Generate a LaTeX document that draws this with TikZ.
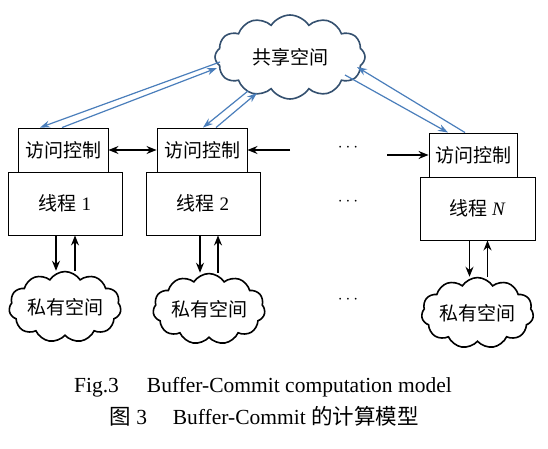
\documentclass[tikz,border=0pt]{standalone}
\usepackage{fontspec}
\setmainfont{Liberation Serif}
\newfontfamily\cjkf{Noto Sans CJK SC}
\usetikzlibrary{shapes.symbols,arrows.meta,calc}
\newcommand\zhs[1]{{\cjkf #1}}
\begin{document}
\begin{tikzpicture}[x=1pt,y=-1pt,
  txt/.style={font=\fontsize{19}{22}\selectfont},
  acbox/.style={draw,line width=0.9pt,minimum width=90pt,minimum height=44pt,inner sep=0pt,txt,fill=white},
  thbox/.style={draw,line width=0.9pt,minimum width=114pt,minimum height=63pt,inner sep=0pt,txt},
  shcloud/.style={cloud,cloud puffs=12,cloud puff arc=115,aspect=1.8,draw=cloudblue,line width=1.6pt,minimum width=150pt,minimum height=84pt,inner sep=0pt,txt},
  prcloud/.style={cloud,cloud puffs=11,cloud puff arc=115,aspect=1.9,draw,line width=1.6pt,minimum width=112pt,minimum height=60pt,inner sep=0pt,txt},
  barrow/.style={draw=arrowblue,line width=1.2pt,-{Stealth[length=10pt,width=7pt]}},
  karrow/.style={line width=1.3pt,-{Stealth[length=10pt,width=8pt]}},
  kdarrow/.style={line width=1.3pt,{Stealth[length=10pt,width=8pt]}-{Stealth[length=10pt,width=8pt]}},
  dotstyle/.style={font=\fontsize{16}{16}\selectfont},
  captext/.style={font=\fontsize{21.5}{24}\selectfont}
]
\definecolor{cloudblue}{HTML}{34506F}
\definecolor{arrowblue}{HTML}{4A7EBB}
\useasboundingbox (0,0) rectangle (548,449);
\fill[white] (0,0) rectangle (548,449);

% shared space
\node[shcloud] (sh) at (290,57) {\zhs{共享空间}};

% threads
\node[thbox] (t1) at (65,203.5) {\zhs{线程} 1};
\node[acbox] (a1) at (63,150) {\zhs{访问控制}};
\node[thbox] (t2) at (203,203.5) {\zhs{线程} 2};
\node[acbox] (a2) at (202,150) {\zhs{访问控制}};
\node[thbox,minimum width=115pt] (tN) at (477.5,208.5) {\zhs{线程} \textit{N}};
\node[acbox,minimum width=88pt] (aN) at (473,155) {\zhs{访问控制}};

% private spaces
\node[prcloud] (p1) at (65,307) {\zhs{私有空间}};
\node[prcloud] (p2) at (209,309) {\zhs{私有空间}};
\node[prcloud] (pN) at (477.5,313) {\zhs{私有空间}};

% dots
\node[dotstyle] (d1) at (348,148) {$\cdots$};
\node[dotstyle] (d2) at (348,202) {$\cdots$};
\node[dotstyle] (d3) at (348,300) {$\cdots$};

% blue arrows
\draw[barrow] ($(sh.center)+(-70,5)$) -- ($(a1.north)+(-23,0)$);
\draw[barrow] ($(a1.north)+(-1,0)$) -- ($(sh.center)+(-73,11)$);
\draw[barrow] ($(sh.center)+(-42,34)$) -- ($(a2.north)+(1,0)$);
\draw[barrow] ($(a2.north)+(14,0)$) -- ($(sh.center)+(-33,36)$);
\draw[barrow] ($(sh.center)+(55,18)$) -- ($(aN.north)+(-25,0)$);
\draw[barrow] ($(aN.north)+(-8,0)$) -- ($(sh.center)+(67,10)$);

% black arrows
\draw[kdarrow] (a1) -- (a2);
\coordinate (c1) at (290,150);
\coordinate (c2) at (387,155);
\draw[karrow] (c1) -- (a2.east);
\draw[karrow] (c2) -- (aN.west);

\draw[karrow] ([xshift=-9pt]t1.south) -- ([xshift=-9pt]p1.north);
\draw[karrow] ([xshift=10pt]p1.north) -- ([xshift=10pt]t1.south);
\draw[karrow] ([xshift=-3pt]t2.south) -- ([xshift=-9pt]p2.north);
\draw[karrow] ([xshift=9pt]p2.north) -- ([xshift=15pt]t2.south);
\draw[karrow] ([xshift=-8pt]tN.south) -- ([xshift=-8pt]pN.north);
\draw[karrow] ([xshift=10pt]pN.north) -- ([xshift=10pt]tN.south);

% captions
\node[captext] (cap1) at (263,387) {Fig.3\hspace{1.3em}Buffer-Commit computation model};
\node[captext] (cap2) at (264,416) {\zhs{图} 3\hspace{1.2em}Buffer-Commit \zhs{的计算模型}};
\end{tikzpicture}
\end{document}
